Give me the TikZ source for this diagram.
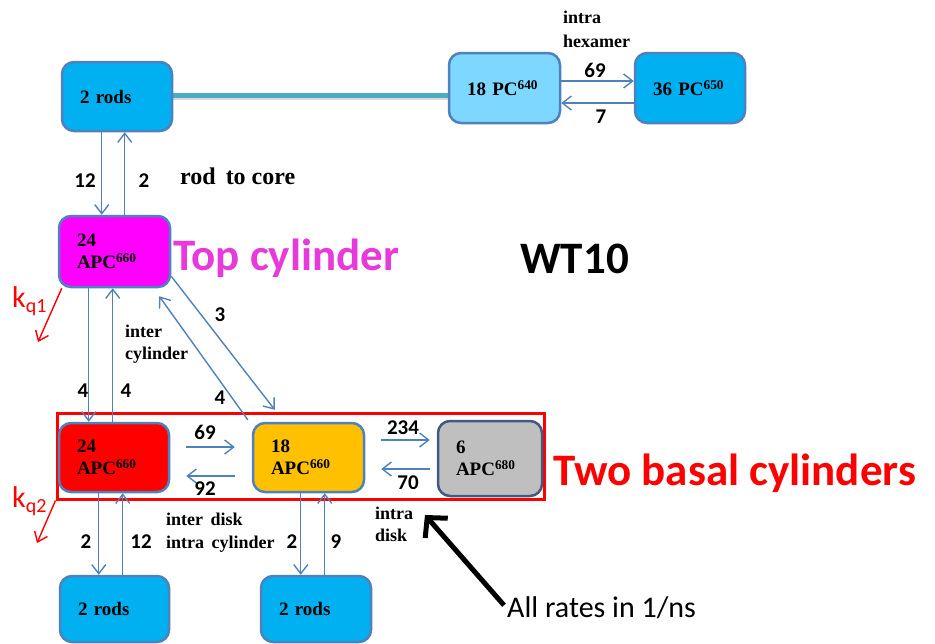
\documentclass[tikz,border=0pt]{standalone}
\usepackage{fontspec}
\setmainfont{Liberation Serif}
\newfontfamily\calib{Carlito}
\usetikzlibrary{arrows.meta}
\definecolor{edgeblue}{RGB}{79,129,189}
\definecolor{rodblue}{RGB}{0,176,240}
\definecolor{pclight}{RGB}{125,215,255}
\definecolor{apcmag}{RGB}{255,0,255}
\definecolor{apcorange}{RGB}{255,192,0}
\definecolor{apcgray}{RGB}{191,191,191}
\definecolor{grayedge}{RGB}{65,90,125}
\definecolor{tealline}{RGB}{75,172,198}
\definecolor{topmag}{RGB}{232,58,218}
\begin{document}
\begin{tikzpicture}[x=1pt,y=-1pt,
  box/.style={draw=edgeblue, line width=2.5pt, rounded corners=12pt,
    inner xsep=18pt, inner ysep=0pt, align=left, text=black,
    font=\fontsize{19}{22}\selectfont\bfseries},
  arr/.style={draw=edgeblue, line width=1.4pt, -{Straight Barb[length=9pt,width=14pt]}},
  qarr/.style={draw=red, line width=1.4pt, -{Straight Barb[length=9pt,width=14pt]}},
  num/.style={anchor=base, font=\fontsize{21}{21}\selectfont\calib\bfseries, inner sep=0pt},
  note/.style={anchor=base west, align=left, inner sep=0pt, font=\fontsize{18}{23}\selectfont\bfseries},
  big/.style={anchor=base west, inner sep=0pt, font=\fontsize{45}{45}\selectfont\calib\bfseries},
  qlab/.style={anchor=base west, inner sep=0pt, text=red, font=\fontsize{30}{30}\selectfont\calib}
]
\useasboundingbox (0,0) rectangle (935,643);

% basal frame
\node[draw=red, line width=3pt, minimum width=487pt, minimum height=86pt, inner sep=0pt] (basal) at (300.5,456) {};

% teal link with soft shadow (drawn before the boxes)
\coordinate (linkstart) at (150,95);
\draw[gray!30, line width=4pt] (150,97.5) -- (470,97.5);
\draw[tealline, line width=5pt] (150,95) -- (470,95);

% boxes
\node[box, fill=rodblue, minimum width=110pt, minimum height=69pt, text width=74pt] (rodsT) at (117,96.5) {2 rods};
\node[box, fill=pclight, minimum width=111pt, minimum height=70pt, text width=75pt] (pc640) at (504.5,88) {18 PC\textsuperscript{640}};
\node[box, fill=rodblue, minimum width=110pt, minimum height=70pt, text width=74pt] (pc650) at (690,88) {36 PC\textsuperscript{650}};
\node[box, fill=apcmag, minimum width=111pt, minimum height=71pt, text width=75pt] (topcyl) at (114.5,251.5) {24\\APC\textsuperscript{660}};
\node[box, fill=red, minimum width=110pt, minimum height=69pt, text width=74pt] (redbox) at (114,457.5) {24\\APC\textsuperscript{660}};
\node[box, fill=apcorange, minimum width=111pt, minimum height=69pt, text width=75pt] (orange) at (308.5,457.5) {18\\APC\textsuperscript{660}};
\node[box, draw=grayedge, fill=apcgray, minimum width=104pt, minimum height=75pt, text width=68pt] (gray) at (490,458.5) {6\\APC\textsuperscript{680}};
\node[box, fill=rodblue, minimum width=109pt, minimum height=66pt, text width=73pt] (rodsBL) at (114.5,609) {2 rods};
\node[box, fill=rodblue, minimum width=110pt, minimum height=66pt, text width=74pt] (rodsBM) at (316,609) {2 rods};

% rod to core
\draw[arr] ([xshift=41pt]rodsT.south west) -- ([xshift=41pt]rodsT.south west |- topcyl.north);
\draw[arr] ([xshift=64pt]rodsT.south west |- topcyl.north) -- ([xshift=64pt]rodsT.south west);
\node[num] (l12a) at (85,187) {12};
\node[num] (l2a) at (144,187) {2};
\node[note, font=\fontsize{24}{24}\selectfont\bfseries] (rodcore) at (180,184) {rod\, to core};

% intra hexamer
\draw[arr] ([yshift=7pt]pc640.east) -- ([yshift=7pt]pc640.east -| pc650.west);
\draw[arr] ([yshift=-15pt]pc640.east -| pc650.west) -- ([yshift=-15pt]pc640.east);
\node[num] (l69a) at (595,77) {69};
\node[num] (l7) at (601,123) {7};
\node[note, font=\fontsize{18}{24}\selectfont\bfseries] (hexa) at (563,47) {intra\\hexamer};

% top cylinder to basal
\draw[arr] ([xshift=31pt]topcyl.south west) -- ([xshift=31pt]topcyl.south west |- redbox.north);
\draw[arr] ([xshift=55pt]topcyl.south west |- redbox.north) -- ([xshift=55pt]topcyl.south west);
\node[num] (l4a) at (83,397) {4};
\node[num] (l4b) at (126,397) {4};
\node[note, font=\fontsize{18}{22}\selectfont\bfseries] (intercyl) at (125,359) {inter\\cylinder};

\draw[arr] ([yshift=12pt]topcyl.south east) -- ([xshift=23pt,yshift=12pt]orange.north west);
\draw[arr] ([xshift=-4pt,yshift=2pt]orange.north west) -- ([xshift=-12pt,yshift=-8pt]topcyl.south east);
\node[num] (l3) at (220,321) {3};
\node[num] (l4c) at (220,404) {4};

% quenching
\coordinate (kq1end) at (38,342);
\draw[qarr] ([xshift=4pt]topcyl.south west) -- (kq1end);
\node[qlab] (kq1) at (12,307) {k\raisebox{-5pt}{\fontsize{20}{20}\selectfont q1}};
\coordinate (kq2end) at (37,543);
\draw[qarr] (basal.south west) -- (kq2end);
\node[qlab] (kq2) at (12,507) {k\raisebox{-5pt}{\fontsize{20}{20}\selectfont q2}};

% inter disk
\draw[arr] ([xshift=16pt,yshift=10.5pt]redbox.east) -- ([xshift=-17pt,yshift=10.5pt]orange.west);
\draw[arr] ([xshift=-17pt,yshift=-18.5pt]orange.west) -- ([xshift=16pt,yshift=-18.5pt]redbox.east);
\node[num] (l69b) at (205,439) {69};
\node[num] (l92) at (205,495) {92};

% intra disk
\draw[arr] ([xshift=16pt,yshift=17.5pt]orange.east) -- ([xshift=-7pt,yshift=18.5pt]gray.west);
\draw[arr] ([xshift=-7pt,yshift=-10.5pt]gray.west) -- ([xshift=16pt,yshift=-11.5pt]orange.east);
\node[num] (l234) at (403,434) {234};
\node[num] (l70) at (408,489) {70};
\node[note, font=\fontsize{18}{22}\selectfont\bfseries] (intradisk) at (375,541) {intra\\disk};

% basal to rods
\draw[arr] ([xshift=41pt]redbox.south west) -- ([xshift=41pt]redbox.south west |- rodsBL.north);
\draw[arr] ([xshift=65pt]redbox.south west |- rodsBL.north) -- ([xshift=65pt]redbox.south west);
\node[num] (l2b) at (86,548) {2};
\node[num] (l12b) at (141,548) {12};
\draw[arr] ([xshift=49pt]orange.south west) -- ([xshift=49pt]orange.south west |- rodsBM.north);
\draw[arr] ([xshift=73pt]orange.south west |- rodsBM.north) -- ([xshift=73pt]orange.south west);
\node[num] (l2c) at (292,548) {2};
\node[num] (l9) at (336,548) {9};
\node[note, font=\fontsize{18}{23}\selectfont\bfseries] (interdisk) at (166,548) {inter\, disk\\intra\, cylinder};

% titles
\node[big, text=topmag] (toptitle) at (173,270) {Top cylinder};
\node[big] (wt) at (520,273) {WT10};
\node[big, text=red] (basaltitle) at (553,485) {Two basal cylinders};

% all rates
\node[anchor=base west, inner sep=0pt, font=\fontsize{30}{30}\selectfont\calib] (allrates) at (507,617) {All rates in 1/ns};
\coordinate (ratetip) at (425,515);
\draw[black, line width=5pt, -{Straight Barb[length=14pt,width=30pt]}] ([xshift=-3pt,yshift=2pt]allrates.west) -- (ratetip);
\end{tikzpicture}
\end{document}
